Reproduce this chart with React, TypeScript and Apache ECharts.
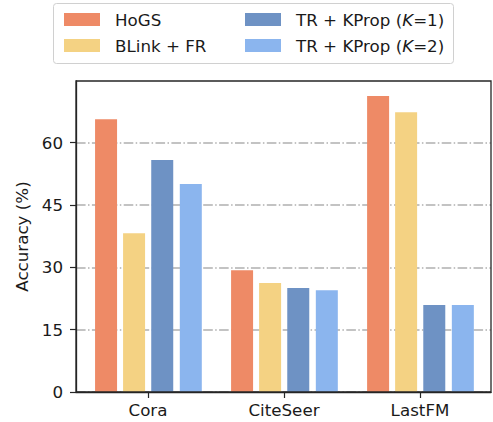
import React, { useEffect, useRef } from "react";
import * as echarts from "echarts";

const categories = ["Cora", "CiteSeer", "LastFM"];
const seriesNames = ["HoGS", "BLink + FR", "TR + KProp (K=1)", "TR + KProp (K=2)"];
const hogs = [65.6, 29.3, 71.2];
const blink = [38.2, 26.2, 67.3];
const trK1 = [55.8, 25.0, 20.9];
const trK2 = [50.0, 24.5, 20.9];
const yTicks = [0, 15, 30, 45, 60];
const colors = ["#EE8A66", "#F4D283", "#6E92C4", "#8BB5EE"];
const groupOffsets = [-0.308, -0.102, 0.105, 0.315];

const FONT = "DejaVu Sans";
const FS = 16.7;

export default function App() {
  const ref = useRef<HTMLDivElement>(null);
  useEffect(() => {
    if (!ref.current) return;
    const chart = echarts.init(ref.current, undefined, { renderer: "svg" });
    const allValues = [hogs, blink, trK1, trK2];
    const legendFormatter = (name: string) => {
      const m = name.match(/^(.*\()K(=.*)$/);
      if (m) return `{a|${m[1]}}{i|K}{a|${m[2]}}`;
      return `{a|${name}}`;
    };
    const rich = {
      a: { fontFamily: FONT, fontSize: FS, color: "#1a1a1a", lineHeight: 17 },
      i: { fontFamily: FONT, fontSize: FS, fontStyle: "italic", color: "#1a1a1a", lineHeight: 17 },
    };
    const legendCommon = {
      orient: "vertical",
      top: 6,
      itemWidth: 36,
      itemHeight: 13,
      itemGap: 9,
      icon: "rect",
      selectedMode: false,
      formatter: legendFormatter,
      textStyle: { fontFamily: FONT, fontSize: FS, color: "#1a1a1a", padding: [0, 0, 0, 10], rich },
    };
    chart.setOption({
      animation: false,
      backgroundColor: "#ffffff",
      textStyle: { fontFamily: FONT },
      graphic: [
        {
          type: "rect",
          z: 0,
          shape: { x: 53.5, y: 3.5, width: 400, height: 60, r: 3 },
          style: { fill: "#ffffff", stroke: "#d0d0d0", lineWidth: 1 },
        },
      ],
      legend: [
        { ...legendCommon, left: 59, data: [seriesNames[0], seriesNames[1]] },
        { ...legendCommon, left: 240, data: [seriesNames[2], seriesNames[3]] },
      ],
      grid: {
        left: 76,
        top: 81,
        right: 2,
        bottom: 30,
        show: true,
        borderColor: "#262626",
        borderWidth: 1.3,
        backgroundColor: "transparent",
        z: 3,
      },
      xAxis: {
        type: "value",
        min: -0.529,
        max: 2.522,
        splitLine: { show: false },
        axisLine: { show: true, onZero: false, lineStyle: { color: "#262626", width: 1.3 } },
        axisTick: { show: true, customValues: [0, 1, 2], length: 6, lineStyle: { color: "#262626", width: 1.2 } },
        axisLabel: {
          customValues: [0, 1, 2],
          formatter: (v: number) => categories[Math.round(v)] ?? "",
          fontFamily: FONT,
          fontSize: FS,
          color: "#1a1a1a",
          margin: 9,
        },
      },
      yAxis: {
        type: "value",
        min: 0,
        max: 74.8,
        interval: 15,
        name: "Accuracy (%)",
        nameLocation: "middle",
        nameGap: 43,
        nameTextStyle: { fontFamily: FONT, fontSize: FS, color: "#1a1a1a" },
        axisLine: { show: true, onZero: false, lineStyle: { color: "#262626", width: 1.3 } },
        axisTick: { show: true, customValues: yTicks, length: 6, lineStyle: { color: "#262626", width: 1.2 } },
        axisLabel: {
          customValues: yTicks,
          fontFamily: FONT,
          fontSize: FS,
          color: "#1a1a1a",
          margin: 13,
        },
        splitLine: {
          show: true,
          lineStyle: { color: "#b0b0b0", width: 1.5, type: [9.6, 2.4, 1.5, 2.4] },
        },
      },
      series: seriesNames.map((name, i) => ({
        name,
        type: "bar",
        barWidth: 22,
        barGap: "-100%",
        itemStyle: { color: colors[i] },
        data: categories.map((_, j) => [j + groupOffsets[i], allValues[i][j]]),
      })),
    });
    return () => chart.dispose();
  }, []);
  return <div ref={ref} style={{ position: "fixed", left: 0, top: 0, width: 493, height: 422 }} />;
}
